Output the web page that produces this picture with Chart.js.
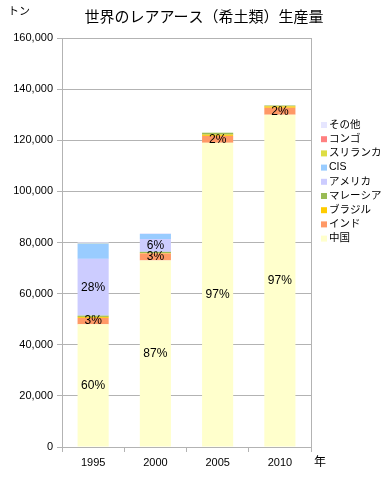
<!DOCTYPE html>
<html>
  <head>
    <title>世界のレアアース生産量</title>
    <meta charset="utf-8" />
    <script src="https://cdn.jsdelivr.net/npm/chart.js"></script>
    <style>
      body { margin: 0; background: #fff; }
      .canvas-container { width: 390px; height: 477px; position: relative; }
    </style>
  </head>
  <body>
    <div class="canvas-container">
      <canvas id="rareEarthChart"></canvas>
    </div>
    <script>
      // 年
      const years = ['1995', '2000', '2005', '2010'];
      // 国別生産量（トン）
      const china     = [48000, 73000, 119000, 130000];
      const india     = [2500, 2700, 2700, 2700];
      const brazil    = [400, 200, 500, 550];
      const malaysia  = [500, 450, 750, 350];
      const usa       = [22200, 5000, 0, 0];
      const cis       = [6000, 2000, 0, 0];
      const sriLanka  = [100, 0, 0, 0];
      const congo     = [50, 0, 0, 0];
      const others    = [300, 300, 0, 0];
      const yTicks = [0, 20000, 40000, 60000, 80000, 100000, 120000, 140000, 160000];
      // パーセント表示する系列
      const labeledSeries = ['中国', 'インド', 'アメリカ'];

      const FONT = '"Liberation Sans", "Noto Sans CJK JP", sans-serif';

      const datasets = [
        { label: '中国', data: china, backgroundColor: '#ffffcc' },
        { label: 'インド', data: india, backgroundColor: '#ff9966' },
        { label: 'ブラジル', data: brazil, backgroundColor: '#ffcc00' },
        { label: 'マレーシア', data: malaysia, backgroundColor: '#99bb55' },
        { label: 'アメリカ', data: usa, backgroundColor: '#ccccff' },
        { label: 'CIS', data: cis, backgroundColor: '#99ccff' },
        { label: 'スリランカ', data: sriLanka, backgroundColor: '#dddd44' },
        { label: 'コンゴ', data: congo, backgroundColor: '#ff8080' },
        { label: 'その他', data: others, backgroundColor: '#e6e6ff' }
      ];
      datasets.forEach(function (d) {
        d.borderWidth = 0;
        d.categoryPercentage = 0.5;
        d.barPercentage = 1.0;
      });

      // 文字・枠・凡例・パーセントを描く
      const extras = {
        id: 'extras',
        afterDatasetsDraw: function (chart) {
          const ctx = chart.ctx;
          const area = chart.chartArea;
          ctx.save();

          // 右側の枠線
          ctx.strokeStyle = '#b3b3b3';
          ctx.lineWidth = 1;
          ctx.beginPath();
          ctx.moveTo(area.right + 0.5, area.top);
          ctx.lineTo(area.right + 0.5, area.bottom);
          ctx.stroke();

          ctx.fillStyle = '#000';
          ctx.textBaseline = 'middle';

          // タイトル
          ctx.font = '15px ' + FONT;
          ctx.textAlign = 'center';
          ctx.fillText('世界のレアアース（希土類）生産量', 204, 18);

          // 単位
          ctx.font = '11px ' + FONT;
          ctx.textAlign = 'left';
          ctx.fillText('トン', 8, 12);
          ctx.font = '12px ' + FONT;
          ctx.fillText('年', area.right + 3, 463);

          // パーセント
          const totals = years.map(function (_, i) {
            return chart.data.datasets.reduce(function (s, d) { return s + d.data[i]; }, 0);
          });
          ctx.font = '12px ' + FONT;
          ctx.textAlign = 'center';
          chart.data.datasets.forEach(function (d, di) {
            if (labeledSeries.indexOf(d.label) < 0) return;
            const meta = chart.getDatasetMeta(di);
            meta.data.forEach(function (bar, i) {
              if (!d.data[i]) return;
              const pct = Math.round(d.data[i] / totals[i] * 100);
              ctx.fillText(pct + '%', bar.x, (bar.y + bar.base) / 2);
            });
          });

          // 凡例（上から逆順）
          ctx.font = '10.5px ' + FONT;
          ctx.textAlign = 'left';
          const items = chart.data.datasets.slice().reverse();
          items.forEach(function (d, k) {
            const y = 125 + k * 14.2;
            ctx.fillStyle = d.backgroundColor;
            ctx.fillRect(area.right + 10, y - 3, 6, 6);
            ctx.fillStyle = '#000';
            ctx.fillText(d.label, area.right + 18, y);
          });
          ctx.restore();
        }
      };

      const ctx = document.getElementById('rareEarthChart').getContext('2d');
      const rareEarthChart = new Chart(ctx, {
        type: 'bar',
        data: { labels: years, datasets: datasets },
        options: {
          responsive: true,
          maintainAspectRatio: false,
          animation: false,
          layout: { padding: { top: 38, right: 79, left: 0, bottom: 0 } },
          plugins: {
            legend: { display: false },
            title: { display: false },
            tooltip: { enabled: false }
          },
          scales: {
            x: {
              stacked: true,
              afterFit: function (s) { s.height = 30; },
              grid: {
                offset: true,
                drawOnChartArea: false,
                drawTicks: true,
                tickLength: 5,
                color: '#b3b3b3'
              },
              border: { color: '#b3b3b3' },
              ticks: { color: '#000', font: { family: FONT, size: 11 }, padding: 4 }
            },
            y: {
              stacked: true,
              min: 0,
              max: 160000,
              afterFit: function (s) { s.width = 62; },
              afterBuildTicks: function (s) {
                s.ticks = yTicks.map(function (v) { return { value: v }; });
              },
              grid: { color: '#b3b3b3', tickLength: 5 },
              border: { color: '#b3b3b3' },
              ticks: {
                color: '#000',
                font: { family: FONT, size: 11 },
                padding: 4,
                callback: function (v) { return v.toLocaleString('en-US'); }
              }
            }
          }
        },
        plugins: [extras]
      });
    </script>
  </body>
</html>
